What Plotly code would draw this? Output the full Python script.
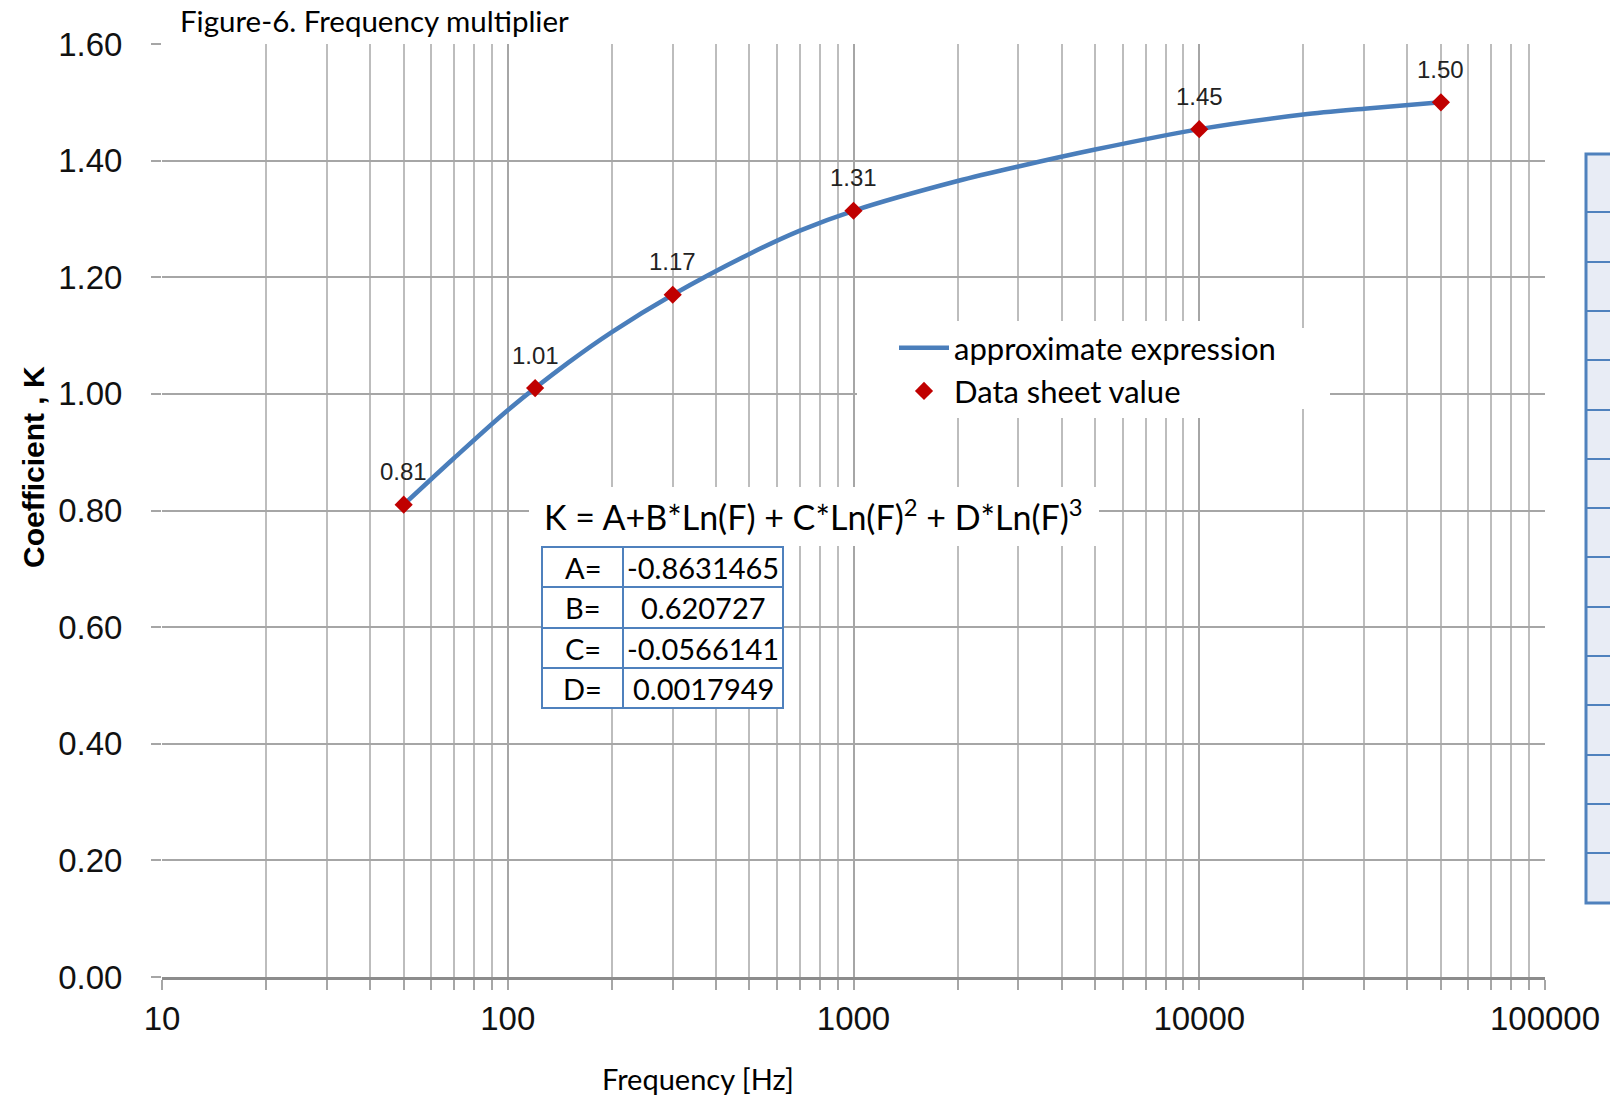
import numpy as np
import plotly.graph_objects as go

# ---------------- data ----------------
freq_points = [50, 120, 300, 1000, 10000, 50000]
k_points = [0.81, 1.01, 1.17, 1.314, 1.454, 1.50]

curve_freq = [50, 70, 100, 150, 200, 300, 500, 700, 1000, 2000, 3000, 5000, 10000, 20000, 30000, 50000]
curve_k = [0.81, 0.890, 0.972, 1.054, 1.106, 1.17, 1.240, 1.280, 1.314, 1.365, 1.390, 1.419, 1.454, 1.479, 1.489, 1.50]

x_tick_vals = [10, 100, 1000, 10000, 100000]
x_tick_text = ["10", "100", "1000", "10000", "100000"]
x_minor_vals = [m * d for d in [10, 100, 1000, 10000] for m in range(2, 10)]

coef_names = ["A=", "B=", "C=", "D="]
coef_values = ["-0.8631465", "0.620727", "-0.0566141", "0.0017949"]

# ---------------- layout helpers ----------------
W, H = 1610, 1097
L, R, T, B = 162, 1545, 44, 977
PW, PH = R - L, B - T


def px(x):
    return (x - L) / PW


def py(y):
    return (B - y) / PH


GRID = "#A6A6A6"
BLUE = "#4A7EBB"
RED = "#C00000"
TBL = "#4F81BD"
SANS = "Liberation Sans, Arial, sans-serif"
CAL = "Lato, Carlito, Calibri, sans-serif"


def note(x, y, text, size, family=CAL, **kw):
    d = dict(x=px(x), y=py(y), xref="paper", yref="paper", showarrow=False, text=text,
             xanchor="center", yanchor="middle", font=dict(family=family, size=size, color="black"))
    d.update(kw)
    return d


fig = go.Figure()
fig.add_trace(go.Scatter(
    x=curve_freq, y=curve_k, mode="lines", name="approximate expression",
    line=dict(color=BLUE, width=4.5, shape="spline", smoothing=0.8),
))
fig.add_trace(go.Scatter(
    x=freq_points, y=k_points, mode="markers", name="Data sheet value",
    marker=dict(symbol="diamond", color=RED, size=14),
))

annotations = []
for f, k in zip(freq_points, k_points):
    annotations.append(dict(
        x=np.log10(f), y=k, xref="x", yref="y", text=f"{k:.2f}", showarrow=False,
        xanchor="center", yanchor="middle",
        yshift=33, font=dict(family=SANS, size=24, color="#222222"),
    ))

shapes = []
# white boxes behind legend and formula
shapes.append(dict(type="rect", xref="paper", yref="paper", x0=px(857), x1=px(1330), y0=py(409), y1=py(328),
                   fillcolor="white", line=dict(width=0), layer="above"))
shapes.append(dict(type="rect", xref="paper", yref="paper", x0=px(529), x1=px(1099), y0=py(546), y1=py(487),
                   fillcolor="white", line=dict(width=0), layer="above"))

# formula
annotations.append(note(813, 515, "K = A+B*Ln(F) + C*Ln(F)<sup>2</sup> + D*Ln(F)<sup>3</sup>", 34))

# coefficient table
row_edges = [547, 587, 628, 668, 708]
tx0, tmid, tx1 = 542, 623, 783
shapes.append(dict(type="rect", xref="paper", yref="paper", x0=px(tx0), x1=px(tx1),
                   y0=py(row_edges[-1]), y1=py(row_edges[0]), fillcolor="white",
                   line=dict(color=TBL, width=2), layer="above"))
shapes.append(dict(type="line", xref="paper", yref="paper", x0=px(tmid), x1=px(tmid),
                   y0=py(row_edges[-1]), y1=py(row_edges[0]), line=dict(color=TBL, width=2), layer="above"))
for ye in row_edges[1:-1]:
    shapes.append(dict(type="line", xref="paper", yref="paper", x0=px(tx0), x1=px(tx1),
                       y0=py(ye), y1=py(ye), line=dict(color=TBL, width=2), layer="above"))
for i, (nm, val) in enumerate(zip(coef_names, coef_values)):
    yc = (row_edges[i] + row_edges[i + 1]) / 2
    annotations.append(note((tx0 + tmid) / 2, yc, nm, 29))
    annotations.append(note((tmid + tx1) / 2, yc, val, 29))

# partial table at right edge
side_rows = [154, 212, 262, 311, 360, 410, 459, 508, 557, 607, 656, 705, 755, 804, 853, 903]
shapes.append(dict(type="rect", xref="paper", yref="paper", x0=px(1586), x1=px(1614),
                   y0=py(side_rows[-1]), y1=py(side_rows[0]), fillcolor="#E8ECF5",
                   line=dict(color=TBL, width=3), layer="above"))
for ye in side_rows[1:-1]:
    shapes.append(dict(type="line", xref="paper", yref="paper", x0=px(1586), x1=px(1614),
                       y0=py(ye), y1=py(ye), line=dict(color=TBL, width=2), layer="above"))

# titles
annotations.append(note(178, 20, "Figure-6. Frequency multiplier", 29.5, xanchor="left"))
annotations.append(note(698, 1078, "Frequency [Hz]", 29))
annotations.append(note(33, 467, "<b>Coefficient , K</b>", 30, family=SANS, textangle=-90))

fig.update_layout(
    width=W, height=H,
    margin=dict(l=L, r=W - R, t=T, b=H - B, pad=0, autoexpand=False),
    paper_bgcolor="white", plot_bgcolor="white",
    showlegend=True,
    legend=dict(x=px(894), y=py(321), xanchor="left", yanchor="top", bgcolor="white",
                font=dict(family=CAL, size=31, color="black"), itemwidth=50, tracegroupgap=0),
    shapes=shapes, annotations=annotations,
)
fig.update_xaxes(
    type="log", range=[1, 5], tickmode="array", tickvals=x_tick_vals, ticktext=x_tick_text,
    showgrid=True, gridcolor=GRID, gridwidth=1.5,
    ticks="outside", ticklen=10, tickcolor=GRID, tickwidth=1.5,
    showline=True, linecolor="#8C8C8C", linewidth=3, mirror=False,
    minor=dict(tickmode="array", tickvals=x_minor_vals, showgrid=True, gridcolor="#BDBDBD", gridwidth=1.5,
               ticks="outside", ticklen=10, tickcolor=GRID, tickwidth=1.5),
    tickfont=dict(family=SANS, size=33, color="#111111"), ticklabelstandoff=0,
    zeroline=False,
)
fig.update_yaxes(
    range=[0, 1.6], dtick=0.2, tick0=0, tickformat=".2f",
    showgrid=True, gridcolor=GRID, gridwidth=1.5,
    ticks="outside", ticklen=10, tickcolor=GRID, tickwidth=1.5,
    showline=False, zeroline=False,
    tickfont=dict(family=SANS, size=33, color="#111111"), ticklabelstandoff=22,
)

fig.write_html("out.html", config={"displayModeBar": False},
               post_script="document.body.style.margin='0';document.body.style.overflow='hidden';")
